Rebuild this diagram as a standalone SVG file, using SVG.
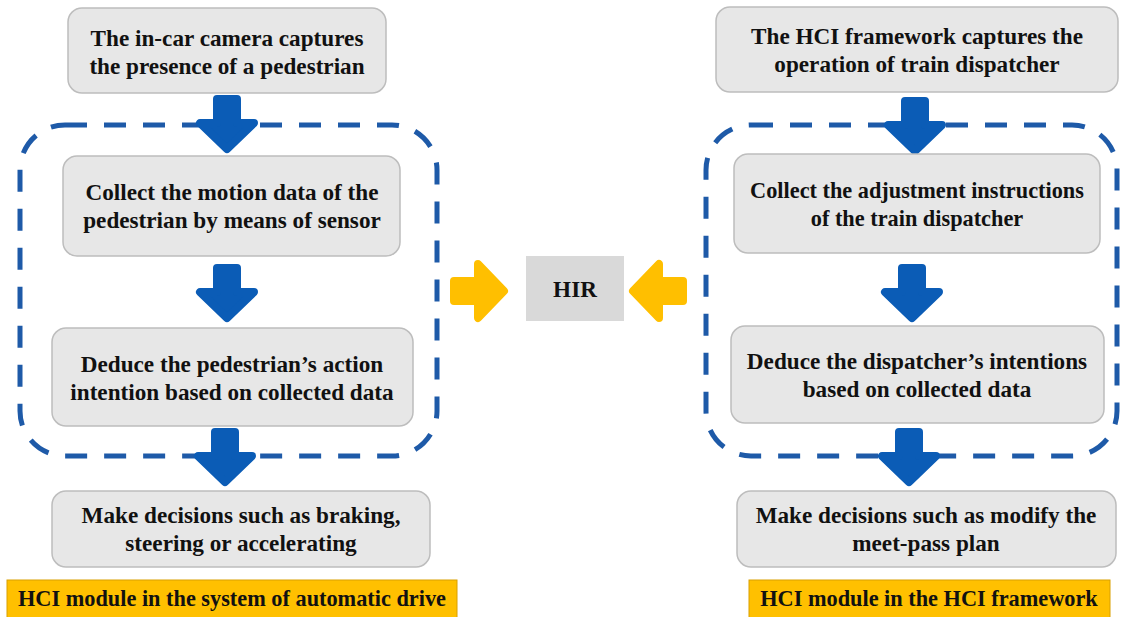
<svg xmlns="http://www.w3.org/2000/svg" xmlns:xlink="http://www.w3.org/1999/xlink" width="1121" height="617" viewBox="0 0 1121 617">
<style>
.box{fill:#E7E7E7;stroke:#BDBDBD;stroke-width:1.5}
.t{font-family:"Liberation Serif","Times New Roman",serif;font-weight:bold;font-size:23.2px;fill:#111;text-anchor:middle}
.s{font-size:22.3px}
.dash{fill:none;stroke:#1E5AA8;stroke-width:5;stroke-dasharray:22 17}
.lbl{fill:#FFC000;stroke:#D9A000;stroke-width:1}
.blue{fill:#0B5CB6;stroke:#0B5CB6;stroke-width:8;stroke-linejoin:round}
.yel{fill:#FFBF00;stroke:#FFBF00;stroke-width:8;stroke-linejoin:round}
</style>
<defs>
<path id="arr" d="M-10,4 L10,4 L10,28 L27,28 L0,54 L-27,28 L-10,28 Z"/>
</defs>
<rect width="1121" height="617" fill="#fff"/>
<g id="groups">
<rect id="left-group" class="dash" x="20" y="125" width="417" height="331" rx="45"/>
<rect id="right-group" class="dash" x="706" y="125" width="411" height="331" rx="45"/>
</g>
<g id="connectors">
<use href="#arr" class="blue" transform="translate(227,95)"/>
<use href="#arr" class="blue" transform="translate(227,264)"/>
<use href="#arr" class="blue" transform="translate(225,428)"/>
<use href="#arr" class="blue" transform="translate(915,97)"/>
<use href="#arr" class="blue" transform="translate(912,264)"/>
<use href="#arr" class="blue" transform="translate(909,428)"/>
<use href="#arr" class="yel" transform="translate(450,291) rotate(-90)"/>
<use href="#arr" class="yel" transform="translate(687,291) rotate(90)"/>
</g>
<g id="l1"><rect class="box" x="68" y="8" width="318" height="85" rx="14"/><text class="t" x="227" y="46">The in-car camera captures</text><text class="t" x="227" y="74">the presence of a pedestrian</text></g>
<g id="l2"><rect class="box" x="63" y="156" width="337" height="100" rx="14"/><text class="t" x="232" y="200">Collect the motion data of the</text><text class="t" x="232" y="228">pedestrian by means of sensor</text></g>
<g id="l3"><rect class="box" x="52" y="328" width="361" height="98" rx="14"/><text class="t" x="232" y="372">Deduce the pedestrian’s action</text><text class="t" x="232" y="400">intention based on collected data</text></g>
<g id="l4"><rect class="box" x="52" y="491" width="378" height="76" rx="14"/><text class="t" x="241" y="523">Make decisions such as braking,</text><text class="t" x="241" y="551">steering or accelerating</text></g>
<g id="l5"><rect class="lbl" x="7" y="580" width="450" height="40"/><text class="t s" x="232" y="606">HCI module in the system of automatic drive</text></g>
<g id="hir"><rect x="526" y="256" width="98" height="65" fill="#D9D9D9"/><text class="t" x="575" y="297">HIR</text></g>
<g id="r1"><rect class="box" x="716" y="7" width="402" height="85" rx="14"/><text class="t" x="917" y="44">The HCI framework captures the</text><text class="t" x="917" y="72">operation of train dispatcher</text></g>
<g id="r2"><rect class="box" x="734" y="154" width="366" height="99" rx="14"/><text class="t s" x="917" y="198">Collect the adjustment instructions</text><text class="t s" x="917" y="226">of the train dispatcher</text></g>
<g id="r3"><rect class="box" x="731" y="326" width="373" height="97" rx="14"/><text class="t" x="917" y="369">Deduce the dispatcher’s intentions</text><text class="t" x="917" y="397">based on collected data</text></g>
<g id="r4"><rect class="box" x="737" y="491" width="379" height="76" rx="14"/><text class="t" x="926" y="523">Make decisions such as modify the</text><text class="t" x="926" y="551">meet-pass plan</text></g>
<g id="r5"><rect class="lbl" x="749" y="580" width="361" height="40"/><text class="t s" x="929" y="606">HCI module in the HCI framework</text></g>
</svg>
